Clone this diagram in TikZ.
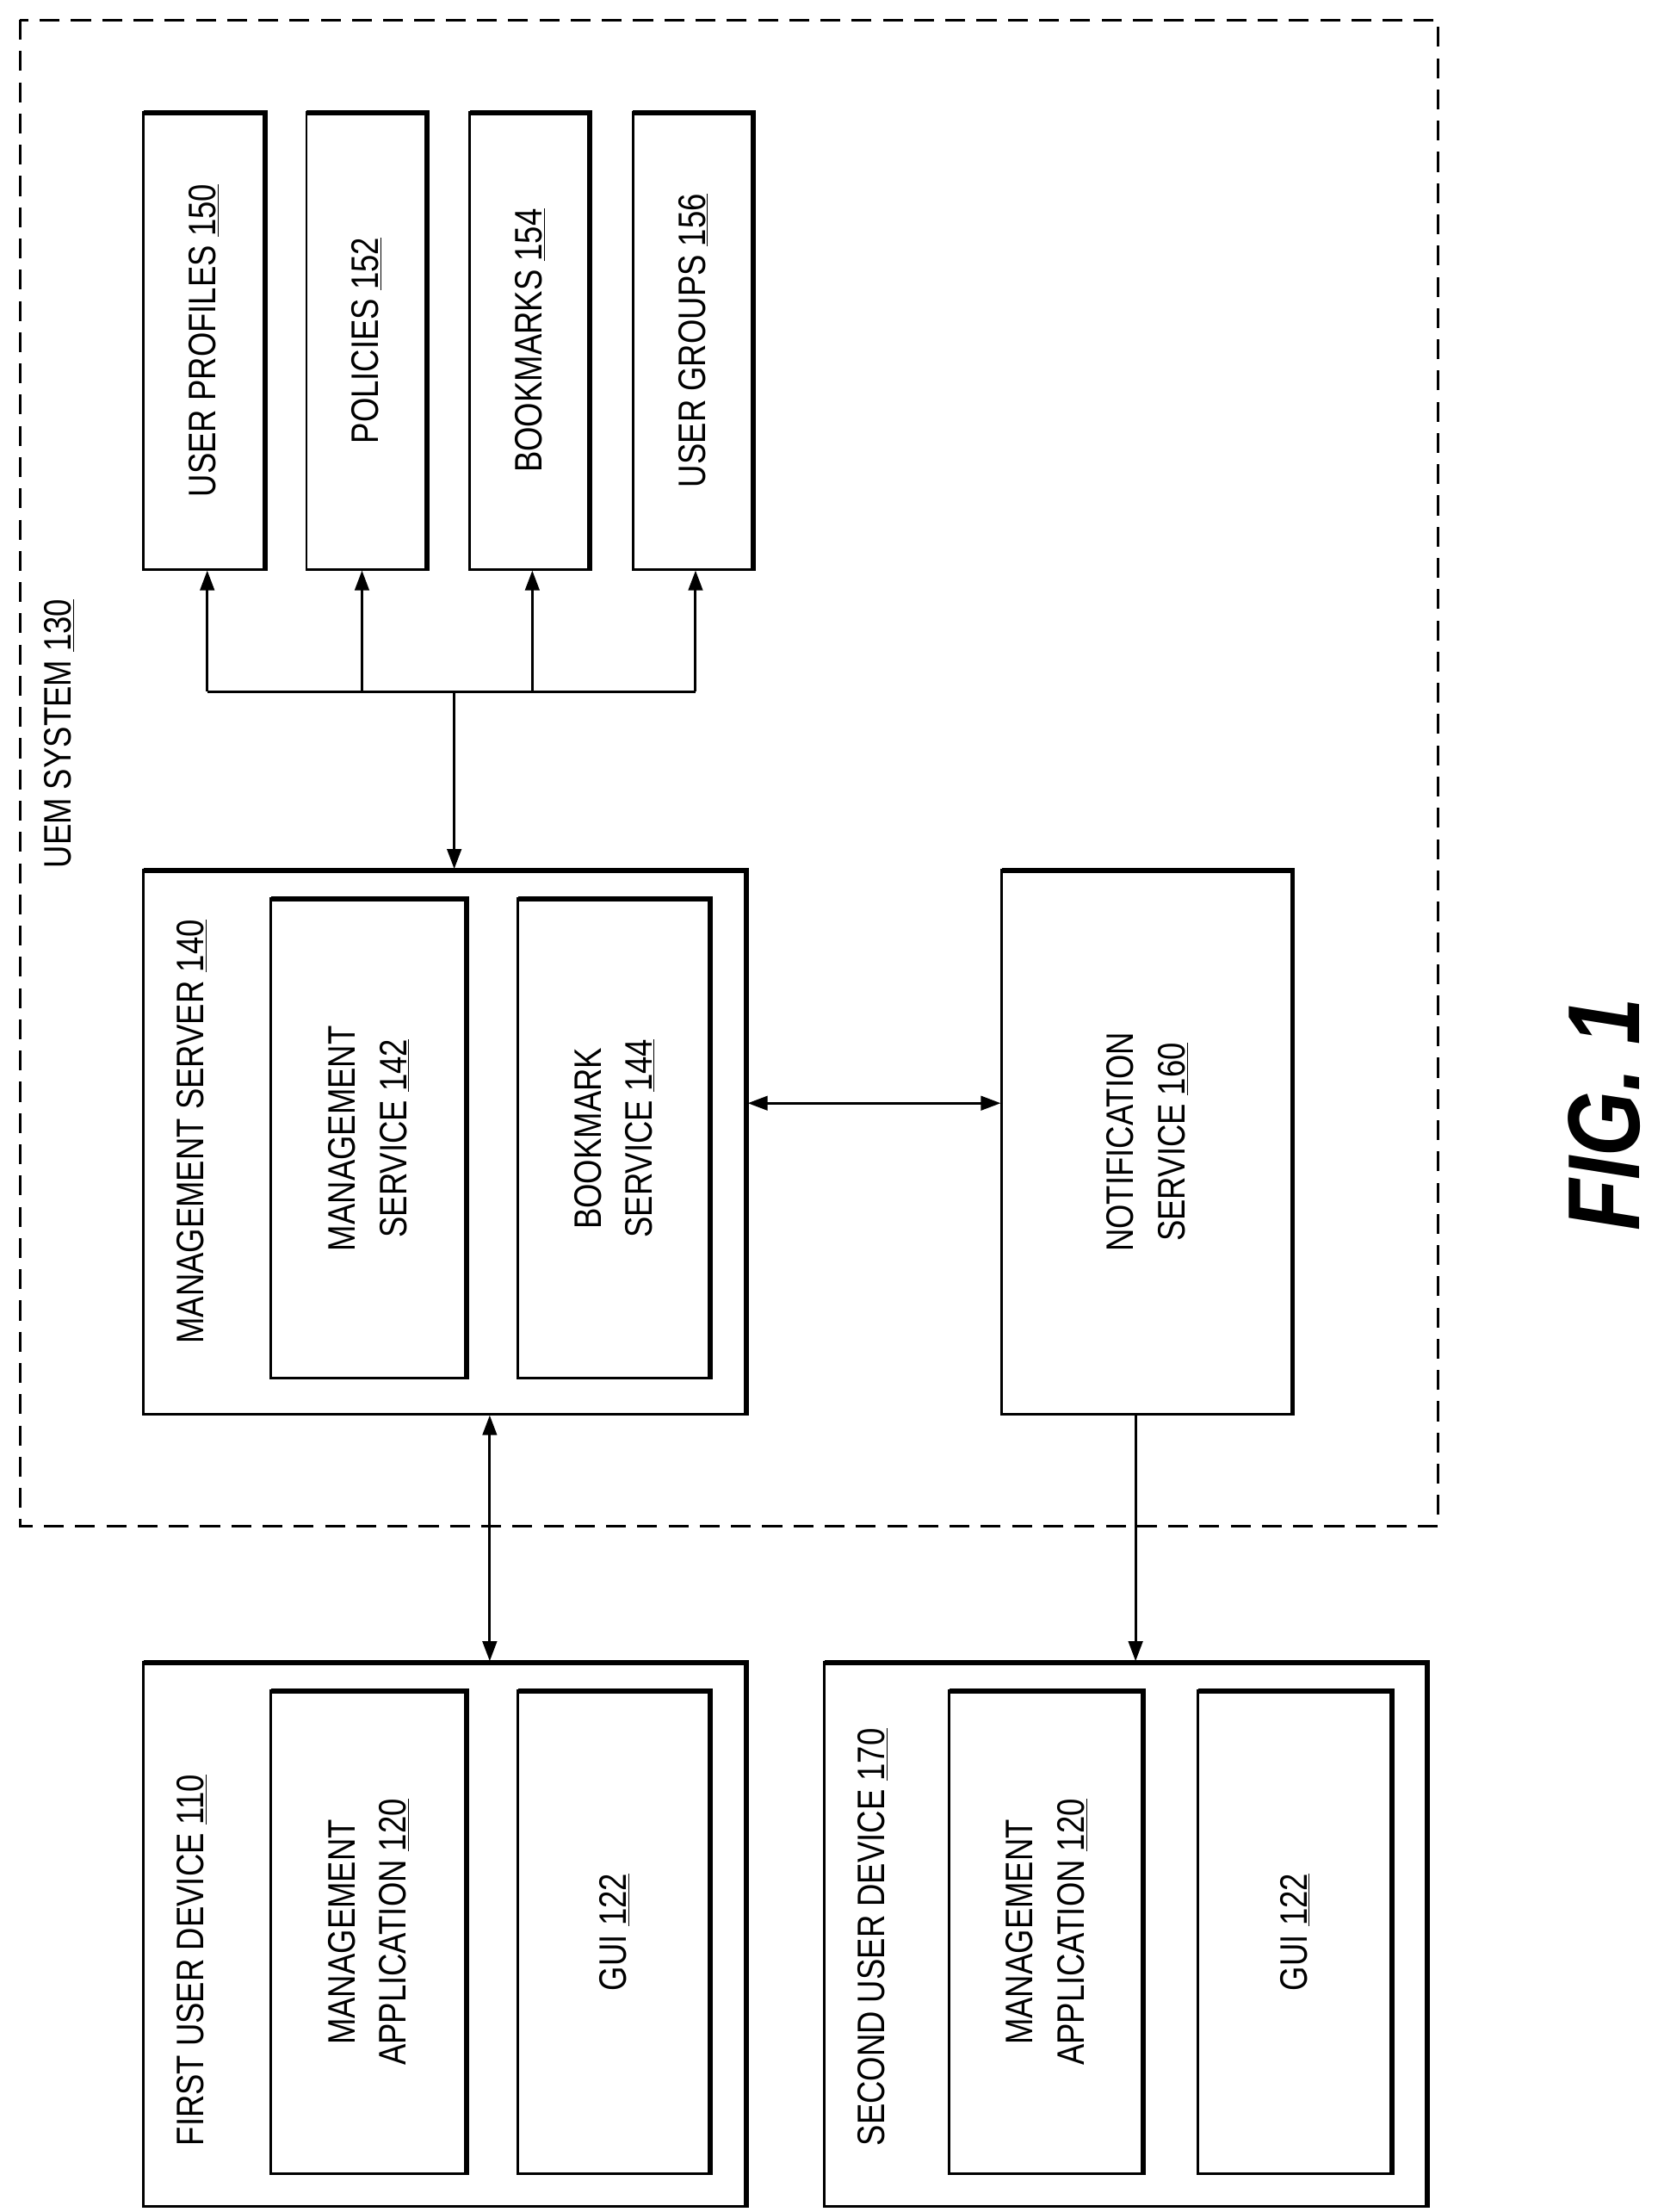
\documentclass[tikz,border=0pt]{standalone}
\usepackage{fontspec}
\setmainfont{Liberation Sans}[FakeStretch=0.82]
\usetikzlibrary{arrows.meta}
\newcommand{\un}[1]{\underline{#1}}
\tikzset{
  box/.style={draw,line width=1.8pt},
  lbl/.style={rotate=90,align=center,font=\fontsize{27}{36}\selectfont},
  arr/.style={line width=1.8pt,-{Triangle[length=14pt,width=10pt]}},
  darr/.style={line width=1.8pt,{Triangle[length=14pt,width=10pt]}-{Triangle[length=14pt,width=10pt]}},
}
\newcommand{\bx}[5]{% name x1 y1 x2 y2
  \node[box,minimum width=#4pt-#2pt,minimum height=#5pt-#3pt,inner sep=0pt,anchor=north west] (#1) at (#2,#3) {};
  \draw[line width=3.6pt] ([xshift=1pt,yshift=-1.2pt]#1.north west) -- ([xshift=-1.2pt,yshift=-1.2pt]#1.north east) -- ([xshift=-1.2pt]#1.south east);
}
\begin{document}
\begin{tikzpicture}[x=1pt,y=-1pt]
\useasboundingbox (0,0) rectangle (1168,1558);
\draw[line width=1.8pt,dash pattern=on 14pt off 8pt] (14,14) rectangle (1013,1075);
\node[lbl,anchor=west] (uem) at (42,615) {UEM SYSTEM \un{130}};
% top boxes
\bx{up}{100}{78}{186}{400}
\bx{po}{215}{78}{300}{400}
\bx{bm}{330}{78}{415}{400}
\bx{ug}{445}{78}{530}{400}
\node[lbl] at (up.center) {USER PROFILES \un{150}};
\node[lbl] at (po.center) {POLICIES \un{152}};
\node[lbl] at (bm.center) {BOOKMARKS \un{154}};
\node[lbl] at (ug.center) {USER GROUPS \un{156}};
% management server
\bx{ms}{100}{612}{525}{995}
\node[lbl,anchor=west] (mslbl) at (135,950) {MANAGEMENT SERVER \un{140}};
\bx{msv}{190}{632}{328}{970}
\bx{bsv}{364}{632}{500}{970}
\node[lbl] at (msv.center) {MANAGEMENT\\SERVICE \un{142}};
\node[lbl] at (bsv.center) {BOOKMARK\\SERVICE \un{144}};
\bx{ns}{705}{612}{910}{995}
\node[lbl] at (ns.center) {NOTIFICATION\\SERVICE \un{160}};
% devices
\bx{d1}{100}{1170}{525}{1553}
\node[lbl,anchor=west] at (135,1515) {FIRST USER DEVICE \un{110}};
\bx{ma1}{190}{1190}{328}{1530}
\bx{g1}{364}{1190}{500}{1530}
\node[lbl] at (ma1.center) {MANAGEMENT\\APPLICATION \un{120}};
\node[lbl] at (g1.center) {GUI \un{122}};
\bx{d2}{580}{1170}{1005}{1553}
\node[lbl,anchor=west] at (615,1515) {SECOND USER DEVICE \un{170}};
\bx{ma2}{668}{1190}{805}{1530}
\bx{g2}{843}{1190}{980}{1530}
\node[lbl] at (ma2.center) {MANAGEMENT\\APPLICATION \un{120}};
\node[lbl] at (g2.center) {GUI \un{122}};
% bus
\coordinate (j) at (320,487);
\coordinate (b1) at (146,487);
\coordinate (b2) at (255,487);
\coordinate (b3) at (375,487);
\coordinate (b4) at (490,487);
\draw[line width=1.8pt] (b1) -- (b4);
\draw[arr] (b1) -- (b1|-up.south);
\draw[arr] (b2) -- (b2|-po.south);
\draw[arr] (b3) -- (b3|-bm.south);
\draw[arr] (b4) -- (b4|-ug.south);
\draw[arr] (j) -- (j|-ms.north);
\coordinate (h) at (0,777);
\coordinate (v1) at (345,0);
\coordinate (v2) at (800,0);
\draw[darr] (ms.east|-h) -- (ns.west|-h);
\draw[darr] (v1|-ms.south) -- (v1|-d1.north);
\draw[arr] (v2|-ns.south) -- (v2|-d2.north);
\node[rotate=90,font=\bfseries\itshape\fontsize{72}{80}\selectfont] (fig) at (1130,785) {FIG. 1};
\end{tikzpicture}
\end{document}
